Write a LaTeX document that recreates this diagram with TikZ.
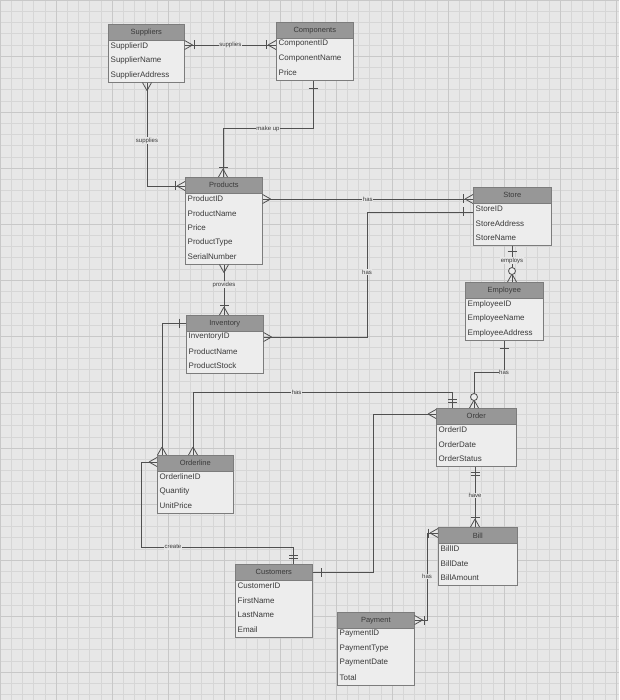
\documentclass[tikz,border=0pt]{standalone}
\usepackage{fontspec}
\setmainfont{Liberation Sans}
\usetikzlibrary{calc}
\definecolor{bg}{HTML}{E7E7E7}
\definecolor{gridc}{HTML}{D6D6D6}
\definecolor{gridm}{HTML}{C8C8C8}
\definecolor{hdr}{HTML}{979797}
\definecolor{bodyc}{HTML}{EDEDED}
\definecolor{edgec}{HTML}{7C7C7C}
\definecolor{txt}{HTML}{3A3A3A}
\definecolor{lnc}{HTML}{505050}
\tikzset{
 ebody/.style={draw=edgec, fill=bodyc, line width=0.6pt, anchor=north west, inner sep=0pt},
 ehead/.style={draw=edgec, fill=hdr, line width=0.6pt, anchor=north west, inner sep=0pt, minimum height=16, text=txt, font=\fontsize{7.5}{8}\selectfont},
 attr/.style={anchor=west, inner sep=0pt, text=txt, font=\fontsize{8}{9}\selectfont},
 conn/.style={draw=lnc, line width=0.8pt},
 rel/.style={fill=bg, inner sep=0.6pt, text=txt, font=\fontsize{6}{6}\selectfont},
}
\newcommand\ent[7]{%
 \node[ebody, minimum width=#4, minimum height={14.5*(#5+1)}] (#1) at (#2,#3) {};
 \node[ehead, minimum width=#4] (#1h) at (#2,#3) {#6};
 \foreach \a [count=\i] in {#7} {\node[attr] (#1a\i) at ($(#1.north west)+(2.5,{7.5+14.5*\i})$) {\a};}
}
\newcommand\crowft[2]{\draw[conn] ($(#1)+(#2:8)$) -- ($(#1)+({#2+90}:4.5)$) ($(#1)+(#2:8)$) -- ($(#1)+({#2-90}:4.5)$);}
\newcommand\barmk[3]{\draw[conn] ($(#1)+(#2:#3)+({#2+90}:4.5)$) -- ($(#1)+(#2:#3)+({#2-90}:4.5)$);}
\newcommand\circmk[3]{\draw[conn, fill=bodyc] ($(#1)+(#2:#3)$) circle (3.5);}
\begin{document}
\begin{tikzpicture}[x=1pt,y=-1pt]
\useasboundingbox (0,0) rectangle (619,700);
\fill[bg] (0,0) rectangle (619,700);
\foreach \k in {0,...,56} {\draw[gridc, line width=0.3pt] ({\k*11.2},0) -- ({\k*11.2},700);}
\foreach \k in {0,...,63} {\draw[gridc, line width=0.3pt] (0,{\k*11.2}) -- (619,{\k*11.2});}
\foreach \k in {0,...,11} {\draw[gridm, line width=0.5pt] ({\k*56},0) -- ({\k*56},700);}
\foreach \k in {0,...,12} {\draw[gridm, line width=0.5pt] (0,{\k*56}) -- (619,{\k*56});}

% entities
\ent{sup}{108}{24}{76}{3}{Suppliers}{SupplierID,SupplierName,SupplierAddress}
\ent{comp}{276}{22}{77}{3}{Components}{ComponentID,ComponentName,Price}
\ent{prod}{185}{177}{77}{5}{Products}{ProductID,ProductName,Price,ProductType,SerialNumber}
\ent{store}{473}{187}{78}{3}{Store}{StoreID,StoreAddress,StoreName}
\ent{emp}{465}{282}{78}{3}{Employee}{EmployeeID,EmployeeName,EmployeeAddress}
\ent{inv}{186}{315}{77}{3}{Inventory}{InventoryID,ProductName,ProductStock}
\ent{oline}{157}{455}{76}{3}{Orderline}{OrderlineID,Quantity,UnitPrice}
\ent{order}{436}{408}{80}{3}{Order}{OrderID,OrderDate,OrderStatus}
\ent{bill}{438}{527}{79}{3}{Bill}{BillID,BillDate,BillAmount}
\ent{cust}{235}{564}{77}{4}{Customers}{CustomerID,FirstName,LastName,Email}
\ent{pay}{337}{612}{77}{4}{Payment}{PaymentID,PaymentType,PaymentDate,Total}

% connector end points
\coordinate (c1a) at ($(sup.north east)+(0,21)$);
\coordinate (c1b) at ($(comp.north west)+(0,23)$);
\coordinate (c2a) at ($(sup.south west)+(39,0)$);
\coordinate (c2b) at ($(prod.north west)+(0,9)$);
\coordinate (c3a) at ($(comp.south west)+(37,0)$);
\coordinate (c3b) at ($(prod.north west)+(38,0)$);
\coordinate (c4a) at ($(prod.north east)+(0,22)$);
\coordinate (c4b) at (store.west |- c4a);
\coordinate (c5a) at ($(store.north west)+(0,25)$);
\coordinate (c5b) at ($(inv.north east)+(0,22)$);
\coordinate (c6a) at ($(prod.south west)+(39,0)$);
\coordinate (c6b) at (inv.north west -| c6a);
\coordinate (c7a) at ($(inv.north west)+(0,8)$);
\coordinate (c7b) at ($(oline.north west)+(5,0)$);
\coordinate (c8a) at ($(oline.north west)+(36,0)$);
\coordinate (c8b) at ($(order.north west)+(16,0)$);
\coordinate (c9a) at ($(oline.north west)+(0,7)$);
\coordinate (c9b) at ($(cust.north west)+(58,0)$);
\coordinate (c10a) at ($(cust.north east)+(0,8)$);
\coordinate (c10b) at ($(order.north west)+(0,6)$);
\coordinate (c11a) at ($(order.south west)+(39,0)$);
\coordinate (c11b) at (bill.north west -| c11a);
\coordinate (c12a) at ($(bill.north west)+(0,6)$);
\coordinate (c12b) at ($(pay.north east)+(0,8)$);
\coordinate (c13a) at ($(store.south west)+(39,0)$);
\coordinate (c13b) at (emp.north west -| c13a);
\coordinate (c14a) at ($(emp.south west)+(39,0)$);
\coordinate (c14b) at ($(order.north west)+(38,0)$);

% connectors
\draw[conn] (c1a) -- node[rel]{supplies} (c1b);
\draw[conn] (c2a) |- node[rel, pos=0.28]{supplies} (c2b);
\draw[conn] (c3a) -- ++(0,48) -| node[rel, pos=0.25]{make up} (c3b);
\draw[conn] (c4a) -- node[rel]{has} (c4b);
\draw[conn] (c5a) -- ++(-106,0) |- node[rel, pos=0.24]{has} (c5b);
\draw[conn] (c6a) -- node[rel, pos=0.4]{provides} (c6b);
\draw[conn] (c7a) -| (c7b);
\draw[conn] (c8a) -- ++(0,-63) -| node[rel, pos=0.2]{has} (c8b);
\draw[conn] (c9a) -- ++(-16,0) -- ++(0,85) -| node[rel, pos=0.105]{create} (c9b);
\draw[conn] (c10a) -- ++(61,0) |- (c10b);
\draw[conn] (c11a) -- node[rel, pos=0.48]{have} (c11b);
\draw[conn] (c12a) -- ++(-11,0) |- node[rel, pos=0.25]{has} (c12b);
\draw[conn] (c13a) -- node[rel, pos=0.42]{employs} (c13b);
\draw[conn] (c14a) -- ++(0,32) node[rel]{has} -| (c14b);

% end marks
\crowft{c1a}{0}\barmk{c1a}{0}{10}
\crowft{c1b}{180}\barmk{c1b}{180}{10}
\crowft{c2a}{90}
\crowft{c2b}{180}\barmk{c2b}{180}{10}
\barmk{c3a}{90}{8}
\crowft{c3b}{270}\barmk{c3b}{270}{10}
\crowft{c4a}{0}
\crowft{c4b}{180}\barmk{c4b}{180}{10}
\barmk{c5a}{180}{10}
\crowft{c5b}{0}
\crowft{c6a}{90}
\crowft{c6b}{270}\barmk{c6b}{270}{10}
\barmk{c7a}{180}{7}
\crowft{c7b}{270}
\crowft{c8a}{270}
\barmk{c8b}{270}{6}\barmk{c8b}{270}{9}
\crowft{c9a}{180}
\barmk{c9b}{270}{6}\barmk{c9b}{270}{9}
\barmk{c10a}{0}{9}
\crowft{c10b}{180}
\barmk{c11a}{90}{6}\barmk{c11a}{90}{9}
\crowft{c11b}{270}\barmk{c11b}{270}{10}
\crowft{c12a}{180}\barmk{c12a}{180}{10}
\crowft{c12b}{0}\barmk{c12b}{0}{10}
\barmk{c13a}{90}{6}
\crowft{c13b}{270}\circmk{c13b}{270}{11}
\barmk{c14a}{90}{8}
\crowft{c14b}{270}\circmk{c14b}{270}{11}
\end{tikzpicture}
\end{document}
